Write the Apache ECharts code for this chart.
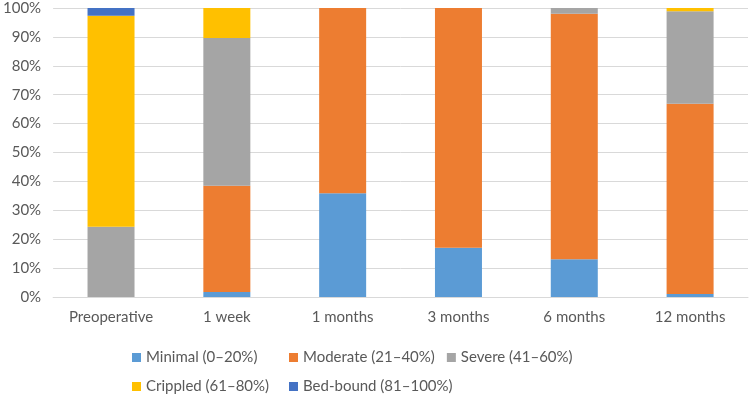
<!DOCTYPE html>
<html>
<head>
<meta charset="utf-8">
<script src="https://cdn.jsdelivr.net/npm/echarts@6/dist/echarts.min.js"></script>
<style>
html,body{margin:0;padding:0;background:#fff;}
#bar{width:750px;height:397px;}
</style>
</head>
<body>
<div id="bar"></div>
<script>
// 分类和各系列数据（百分比）
var categories = ['Preoperative', '1 week', '1 months', '3 months', '6 months', '12 months'];
var minimal  = [0,    1.7,  35.9, 17,  13.1, 1];
var moderate = [0,    36.8, 64.1, 83,  84.9, 65.9];
var severe   = [24.3, 51.1, 0,    0,   2,    32];
var crippled = [73,   10.4, 0,    0,   0,    1.1];
var bedbound = [2.7,  0,    0,    0,   0,    0];
var seriesNames = ['Minimal (0–20%)', 'Moderate (21–40%)', 'Severe (41–60%)', 'Crippled (61–80%)', 'Bed-bound (81–100%)'];

var myChart_1;
var font = 'Lato, "Open Sans", sans-serif';

function bar(){
	var list = [minimal, moderate, severe, crippled, bedbound];
	var series = [];
	for (var i = 0; i < list.length; i++) {
		series.push({
			name: seriesNames[i],
			type: 'bar',
			stack: 'total',
			barWidth: 47,
			data: list[i]
		});
	}
	var option = {
		animation: false,
		color: ['#5B9BD5', '#ED7D31', '#A5A5A5', '#FFC000', '#4472C4'],
		textStyle: {fontFamily: font},
		grid: {left: 52, right: 2, top: 8, bottom: 100},
		legend: {
			left: 127,
			top: 344,
			width: 480,
			itemWidth: 9,
			itemHeight: 9,
			itemGap: 12,
			icon: 'rect',
			textStyle: {color: '#595959', fontSize: 15, fontFamily: font, width: 131, lineHeight: 17}
		},
		xAxis: {
			type: 'category',
			data: categories,
			axisTick: {show: false},
			axisLine: {lineStyle: {color: '#D9D9D9'}},
			axisLabel: {color: '#595959', fontSize: 15, margin: 13}
		},
		yAxis: {
			type: 'value',
			min: 0,
			max: 100,
			interval: 10,
			axisLabel: {color: '#595959', fontSize: 15, formatter: '{value}%', margin: 12},
			splitLine: {lineStyle: {color: '#D9D9D9'}}
		},
		series: series
	};
	myChart_1 = echarts.init(document.getElementById('bar'));
	myChart_1.setOption(option);
}
bar();
</script>
</body>
</html>
